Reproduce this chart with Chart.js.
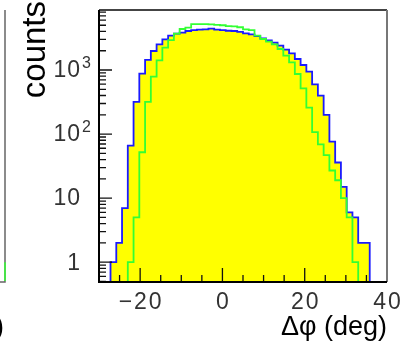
<!DOCTYPE html>
<html>
<head>
<meta charset="utf-8">
<script src="https://cdn.jsdelivr.net/npm/chart.js@4/dist/chart.umd.min.js"></script>
<style>
  html, body { margin: 0; padding: 0; background: #fff; }
  #wrap { width: 403px; height: 350px; }
</style>
</head>
<body>
<div id="wrap"><canvas id="dphi"></canvas></div>
<script>
// histogram binning: 50 bins of 1.4 deg from -30 to 40
const binLow = -30;
const binWidth = 1.4;

// counts per bin (log scale)
const blueCounts = [
  0, 0, 1, 2, 7, 66, 317, 878, 1435, 1982,
  2515, 3012, 3437, 3693, 3840, 4064, 4210, 4260, 4320, 4430,
  4260, 4200, 4100, 4064, 3928, 3740, 3605, 3392, 3120, 2905,
  2673, 2399, 2080, 1822, 1486, 1197, 943, 598, 399, 199,
  76, 36, 15, 6, 5, 2, 2, 0, 0, 0
];
const greenCounts = [
  0, 0, 0, 0, 0, 1, 5, 52, 317, 789,
  1417, 2233, 2939, 3693, 4366, 4600, 5200, 5200, 5200, 5150,
  5050, 5000, 4850, 4800, 4650, 4300, 4200, 3437, 3049, 2773,
  2515, 2130, 1675, 1318, 867, 518, 259, 107, 69, 47,
  27, 19, 10, 5, 1, 0, 0, 0, 0, 0
];
const greenUnderflow = 1;
const greenOverflow = 1;

const xTicks = [-20, 0, 20, 40];
const xTickLabels = ["\u221220", "0", "20", "40"];
const yTicks = [1, 10, 100, 1000];
const yTickBase = ["1", "10", "10", "10"];
const yTickExp = ["", "", "2", "3"];
const xTitle = "\u0394\u03c6 (deg)";
const yTitle = "counts";

const FLOOR = 1e-3; // empty bins sit below the axis and get clipped

const toSteps = (counts, under, over) => {
  const pts = [];
  if (under !== undefined) pts.push({ x: binLow - binWidth, y: under || FLOOR });
  counts.forEach((c, i) => pts.push({ x: binLow + i * binWidth, y: c > 0 ? c : FLOOR }));
  const end = binLow + counts.length * binWidth;
  if (over !== undefined) {
    pts.push({ x: end, y: over || FLOOR });
    pts.push({ x: end + binWidth, y: over || FLOOR });
  } else {
    pts.push({ x: end, y: pts[pts.length - 1].y });
  }
  return pts;
};

const axesPlugin = {
  id: "rootAxes",
  afterDatasetsDraw(chart) {
    const { ctx, chartArea: a, scales } = chart;
    const x = scales.x, y = scales.y;
    ctx.save();

    // inward ticks
    ctx.strokeStyle = "#111";
    ctx.lineWidth = 1.3;
    ctx.beginPath();
    for (let e = -1; e <= 3; e++) {
      for (let m = 1; m <= 9; m++) {
        const v = m * Math.pow(10, e);
        if (v < y.min || v > y.max) continue;
        const py = y.getPixelForValue(v);
        ctx.moveTo(a.left, py);
        ctx.lineTo(a.left + (m === 1 ? 13 : 7), py);
      }
    }
    for (let v = -25; v < 40; v += 5) {
      const px = x.getPixelForValue(v);
      ctx.moveTo(px, a.bottom);
      ctx.lineTo(px, a.bottom - (v % 20 === 0 ? 14 : 7));
    }
    ctx.stroke();

    // frame
    ctx.lineWidth = 2;
    ctx.strokeStyle = "#444";
    ctx.beginPath();
    ctx.moveTo(a.left, a.top);
    ctx.lineTo(a.right, a.top);
    ctx.stroke();
    ctx.strokeStyle = "#777";
    ctx.beginPath();
    ctx.moveTo(a.right, a.top);
    ctx.lineTo(a.right, a.bottom);
    ctx.stroke();
    ctx.strokeStyle = "#000";
    ctx.beginPath();
    ctx.moveTo(a.left, a.top);
    ctx.lineTo(a.left, a.bottom);
    ctx.lineTo(a.right, a.bottom);
    ctx.stroke();

    // edge of the neighbouring panel on the left
    ctx.strokeStyle = "#666";
    ctx.lineWidth = 1.5;
    ctx.beginPath();
    ctx.moveTo(5, a.top);
    ctx.lineTo(5, a.bottom);
    ctx.lineTo(0, a.bottom);
    ctx.stroke();
    ctx.strokeStyle = "#33ff33";
    ctx.beginPath();
    ctx.moveTo(5, y.getPixelForValue(1));
    ctx.lineTo(5, a.bottom - 1);
    ctx.stroke();

    // tick labels
    ctx.fillStyle = "#333";
    ctx.font = "23px 'Liberation Sans', Arial, sans-serif";
    ctx.letterSpacing = "2px";
    ctx.textAlign = "center";
    ctx.textBaseline = "alphabetic";
    xTicks.forEach((v, i) => {
      ctx.fillText(xTickLabels[i], x.getPixelForValue(v) + 1, a.bottom + 27);
    });
    ctx.letterSpacing = "1px";
    yTicks.forEach((v, i) => {
      const py = y.getPixelForValue(v);
      ctx.font = "23px 'Liberation Sans', Arial, sans-serif";
      ctx.textAlign = "right";
      ctx.textBaseline = "middle";
      ctx.fillText(yTickBase[i], a.left - 18, py + 1);
      if (yTickExp[i]) {
        ctx.font = "16px 'Liberation Sans', Arial, sans-serif";
        ctx.textAlign = "left";
        ctx.textBaseline = "alphabetic";
        ctx.fillText(yTickExp[i], a.left - 17, py - 2);
      }
    });
    ctx.letterSpacing = "0px";

    // axis titles
    ctx.fillStyle = "#000";
    ctx.font = "27px 'Liberation Sans', Arial, sans-serif";
    ctx.textAlign = "right";
    ctx.textBaseline = "alphabetic";
    ctx.fillText(xTitle, a.right, 335);
    ctx.fillText(xTitle, 4, 335);

    ctx.font = "33px 'Liberation Sans', Arial, sans-serif";
    ctx.translate(45, 1);
    ctx.rotate(-Math.PI / 2);
    ctx.textAlign = "right";
    ctx.fillText(yTitle, 0, 0);
    ctx.restore();
  }
};

new Chart(document.getElementById("dphi"), {
  type: "line",
  data: {
    datasets: [
      {
        label: "green",
        data: toSteps(greenCounts, greenUnderflow, greenOverflow),
        borderColor: "#33ff33",
        borderWidth: 1.8,
        fill: false,
        stepped: true,
        pointRadius: 0,
        order: 1
      },
      {
        label: "blue",
        data: toSteps(blueCounts),
        borderColor: "#1a1aff",
        backgroundColor: "#ffff00",
        borderWidth: 1.8,
        fill: "start",
        stepped: true,
        pointRadius: 0,
        order: 2
      }
    ]
  },
  options: {
    responsive: true,
    maintainAspectRatio: false,
    animation: false,
    devicePixelRatio: 1,
    layout: { padding: { left: 99, right: 16, top: 10, bottom: 68 } },
    plugins: { legend: { display: false }, tooltip: { enabled: false } },
    scales: {
      x: { type: "linear", min: -30, max: 40, display: false },
      y: { type: "logarithmic", min: 0.49, max: 8650, display: false }
    }
  },
  plugins: [axesPlugin]
});
</script>
</body>
</html>
